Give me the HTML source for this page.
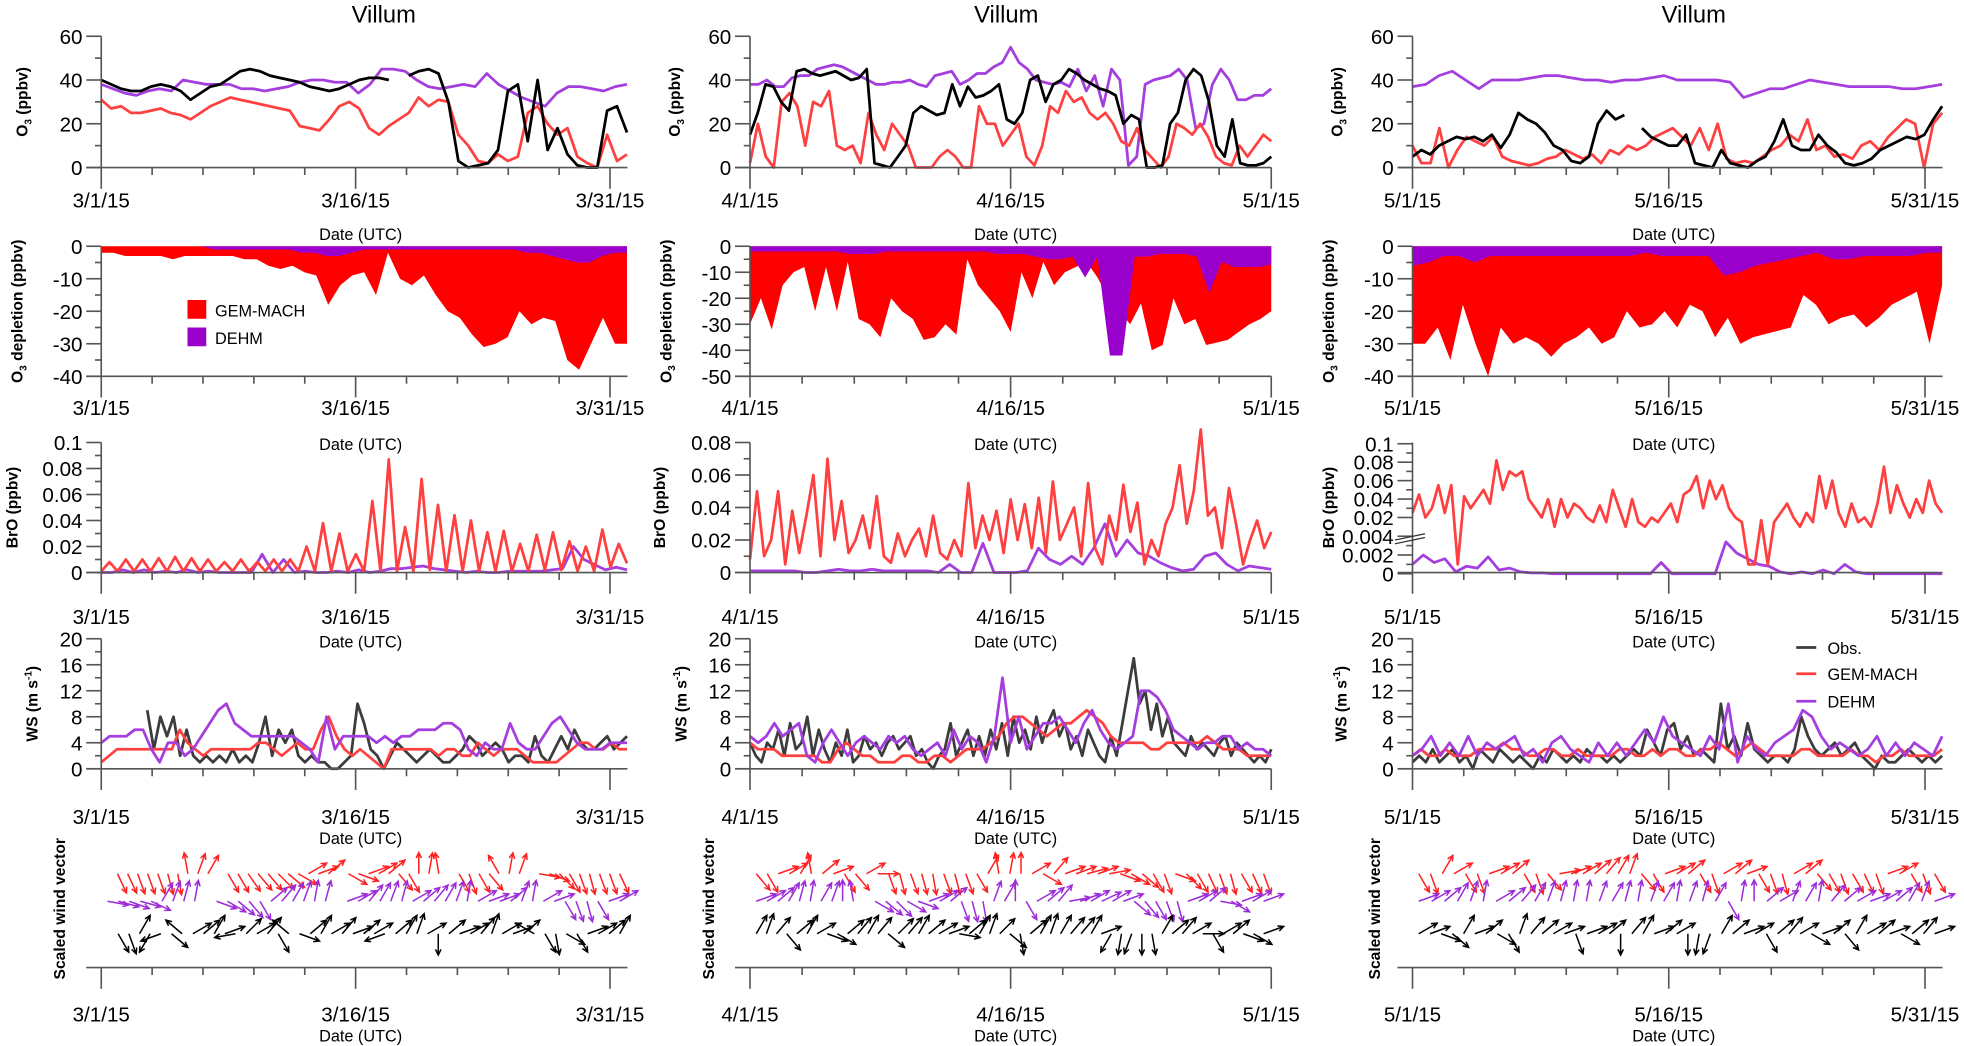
<!DOCTYPE html>
<html><head><meta charset="utf-8"><style>
html,body{margin:0;padding:0;background:#fff;}
svg{display:block;font-family:"Liberation Sans",sans-serif;}
</style></head><body>
<svg id="fig" width="1964" height="1046" viewBox="0 0 1571.2 836.8" xmlns="http://www.w3.org/2000/svg"></svg>
<script>
// ---------- DATA ----------
const colDates = [['3/1/15','3/16/15','3/31/15'],['4/1/15','4/16/15','5/1/15'],['5/1/15','5/16/15','5/31/15']];
const colSpanDays = [31,30,31];
// O3 (ppbv)
const o3Obs1 = [40,38,36,35,35,37,38,37,35,31,34,37,38,41,44,45,44,42,41,40,39,37,36,35,36,38,40,41,41,40,null,42,44,45,43,30,3,0,1,2,8,35,38,12,40,8,18,6,1,0,0,26,28,16];
const o3Gem1 = [31,27,28,25,25,26,27,25,24,22,25,28,30,32,31,30,29,28,27,26,19,18,17,22,28,30,27,18,15,19,22,25,32,28,31,30,15,10,3,2,6,3,5,25,28,20,15,18,5,2,0,15,3,6];
const o3Dehm1 = [38,36,34,33,35,36,35,40,39,38,38,38,36,36,35,36,37,39,40,40,39,39,34,38,45,45,44,40,37,36,37,38,37,43,38,35,32,30,28,34,37,37,36,35,37,38];
const o3Obs2 = [15,25,38,37,30,26,44,45,43,42,43,44,42,40,41,45,2,1,0,5,10,25,28,26,24,25,38,28,37,32,33,35,38,22,20,25,40,42,30,38,40,45,43,40,38,36,35,33,20,24,22,0,0,1,20,25,40,45,42,30,10,5,22,2,1,1,2,5];
const o3Gem2 = [2,20,5,0,30,34,28,10,30,28,35,10,8,10,2,25,15,8,20,15,10,0,0,0,5,8,5,0,0,28,20,20,10,15,20,5,1,10,28,25,35,30,32,25,22,25,20,12,10,18,8,4,0,5,20,18,15,20,14,5,2,1,10,5,10,15,12];
const o3Dehm2 = [38,38,40,37,37,41,42,42,45,46,47,46,44,42,40,38,38,39,39,40,38,37,42,43,44,38,40,43,43,46,48,55,48,45,40,39,38,39,37,45,35,42,28,45,40,1,5,38,40,41,42,45,40,18,20,38,45,40,31,31,33,33,36];
const o3Obs3 = [5,8,6,10,12,14,13,14,12,15,9,15,25,22,20,16,10,8,3,2,5,20,26,22,24,null,18,14,12,10,10,15,2,1,0,8,2,1,0,3,5,12,22,10,8,8,15,10,7,2,1,2,4,8,10,12,14,13,15,22,28];
const o3Gem3 = [10,2,2,18,0,8,14,12,10,14,5,3,2,1,2,4,5,8,6,4,6,2,8,6,10,8,10,14,16,18,14,10,18,8,20,4,2,3,2,5,8,10,15,12,22,8,10,5,6,4,10,12,8,14,18,22,20,0,20,25];
const o3Dehm3 = [37,38,42,44,40,36,40,40,40,41,42,42,41,40,40,39,40,40,41,42,40,40,40,40,39,32,34,36,36,38,40,39,38,37,37,37,37,36,36,37,38];
// O3 depletion (ppbv)
const depGem1 = [-2,-2,-3,-3,-3,-3,-4,-3,-3,-3,-3,-3,-4,-4,-6,-7,-6,-8,-9,-18,-12,-9,-8,-15,-2,-10,-12,-9,-15,-20,-22,-27,-31,-30,-28,-20,-24,-22,-23,-35,-38,-30,-22,-30,-30];
const depDehm1 = [0,0,0,0,0,0,0,0,0,-1,-1,-1,-1,-1,-1,-1,-2,-2,-3,-3,-2,-1,-1,-1,-1,-1,-1,-1,-1,-1,-1,-1,-1,-1,-2,-2,-3,-4,-5,-5,-3,-2,-2];
const depGem2 = [-30,-20,-32,-15,-10,-8,-25,-8,-25,-6,-28,-30,-35,-20,-25,-28,-36,-35,-30,-34,-5,-15,-20,-25,-33,-10,-20,-6,-15,-10,-8,-6,-12,-20,-25,-30,-22,-40,-38,-20,-30,-28,-38,-37,-36,-33,-30,-28,-25];
const depDehm2 = [-2,-2,-2,-2,-2,-2,-2,-2,-3,-3,-3,-2,-2,-2,-2,-2,-2,-2,-2,-2,-3,-3,-3,-4,-5,-5,-4,-12,-4,-42,-42,-4,-4,-3,-3,-3,-4,-18,-6,-8,-8,-8,-7];
const depGem3 = [-30,-30,-25,-35,-18,-30,-40,-25,-30,-28,-30,-34,-30,-28,-25,-30,-28,-20,-25,-24,-20,-25,-18,-20,-28,-22,-30,-28,-27,-26,-25,-15,-18,-24,-22,-21,-25,-22,-18,-16,-14,-30,-12];
const depDehm3 = [-6,-5,-3,-3,-5,-3,-3,-3,-3,-3,-3,-3,-3,-3,-3,-2,-3,-3,-3,-3,-9,-8,-6,-5,-4,-3,-2,-4,-4,-3,-3,-3,-3,-2,-2];
// BrO (ppbv)
const broGem1 = [0.001,0.008,0.001,0.01,0.001,0.01,0.001,0.011,0.001,0.012,0.001,0.011,0.001,0.01,0.001,0.008,0.001,0.01,0.001,0.008,0.001,0.01,0.001,0.01,0.001,0.02,0.001,0.038,0.001,0.03,0.001,0.014,0.001,0.055,0.001,0.087,0.001,0.035,0.001,0.072,0.002,0.052,0.001,0.044,0.001,0.04,0.001,0.031,0.001,0.032,0.001,0.022,0.001,0.029,0.002,0.031,0.002,0.024,0.001,0.02,0.001,0.033,0.004,0.022,0.007];
const broDehm1 = [0,0,0.002,0,0.002,0,0.001,0,0.002,0,0.001,0,0,0,0,0.014,0,0.01,0,0.001,0,0,0.001,0,0.002,0,0.001,0.003,0.003,0.004,0.005,0.003,0.002,0.001,0,0.001,0,0,0.001,0.001,0.001,0.001,0.002,0.003,0.02,0.01,0.006,0.002,0.004,0.002];
const broGem2 = [0.008,0.05,0.01,0.02,0.05,0.005,0.038,0.012,0.035,0.06,0.01,0.07,0.02,0.044,0.012,0.02,0.035,0.015,0.047,0.01,0.006,0.024,0.01,0.02,0.027,0.01,0.035,0.012,0.008,0.02,0.01,0.055,0.015,0.035,0.02,0.038,0.012,0.045,0.02,0.042,0.015,0.046,0.012,0.056,0.02,0.03,0.04,0.01,0.055,0.015,0.005,0.035,0.02,0.054,0.025,0.043,0.005,0.02,0.01,0.03,0.04,0.066,0.03,0.05,0.088,0.035,0.04,0.015,0.052,0.03,0.005,0.02,0.032,0.015,0.025];
const broDehm2 = [0.001,0.001,0.001,0.001,0.001,0,0,0.001,0.002,0.001,0.001,0.002,0.001,0.001,0.001,0.001,0.001,0,0.005,0,0,0.018,0,0,0,0.001,0.015,0.008,0.005,0.01,0.005,0.015,0.03,0.01,0.02,0.012,0.01,0.006,0.003,0.001,0.002,0.01,0.012,0.005,0.001,0.004,0.003,0.002];
const broGem3 = [0.025,0.045,0.02,0.03,0.055,0.025,0.055,0.001,0.043,0.03,0.04,0.05,0.035,0.082,0.05,0.07,0.065,0.07,0.04,0.03,0.02,0.04,0.01,0.04,0.02,0.035,0.03,0.02,0.015,0.033,0.015,0.05,0.03,0.01,0.04,0.015,0.01,0.02,0.015,0.025,0.035,0.015,0.045,0.05,0.065,0.03,0.06,0.04,0.055,0.03,0.02,0.015,0.001,0.001,0.017,0.001,0.015,0.025,0.035,0.02,0.01,0.025,0.015,0.065,0.03,0.06,0.025,0.01,0.035,0.015,0.02,0.01,0.035,0.075,0.025,0.055,0.035,0.02,0.04,0.025,0.06,0.035,0.025];
const broDehm3 = [0.001,0.002,0.0012,0.0016,0.0002,0.0008,0.0006,0.0018,0.0004,0.0006,0.0002,0.0001,0.0001,0,0,0,0,0,0,0,0,0,0,0.0012,0,0,0,0,0,0.0034,0.0022,0.0016,0.001,0.0008,0.0002,0,0.0002,0,0.0004,0,0.001,0.0002,0,0,0,0,0,0,0,0];
// Wind speed (m s-1)
const wsObs1 = [null,null,null,null,null,null,null,9,3,8,5,8,2,6,2,1,2,1,2,1,3,1,2,1,4,8,2,6,4,6,2,1,2,1,1,0,0,1,2,10,7,3,2,0,2,4,3,2,1,2,3,2,1,1,2,3,5,4,2,3,4,3,1,2,2,1,5,2,1,3,5,3,6,4,3,3,4,5,3,4,5];
const wsGem1 = [1,2,3,3,3,3,3,3,3,3,6,4,3,2,3,3,3,3,3,3,4,4,3,2,3,4,3,3,6,8,5,3,2,3,2,1,0,3,3,3,3,3,3,2,3,3,2,2,4,3,2,3,3,3,2,1,1,1,1,2,3,4,4,3,3,4,3,3];
const wsDehm1 = [4,5,5,5,6,6,3,1,4,4,2,3,5,7,9,10,7,6,5,5,5,5,5,5,4,3,1,8,3,5,5,5,5,4,5,4,5,5,6,6,6,7,7,6,3,2,4,3,3,7,4,3,3,5,7,8,6,4,3,3,3,4,4,4];
const wsObs2 = [4,2,1,4,3,6,2,7,3,4,8,2,6,3,1,4,2,6,1,2,5,3,4,2,4,5,3,4,5,2,3,1,0,2,3,7,2,4,6,2,5,2,6,3,7,2,8,4,6,3,8,4,7,9,5,7,3,5,2,6,4,2,1,5,2,7,12,17,10,12,6,10,5,8,4,3,2,5,3,4,3,2,4,5,2,4,3,2,1,2,1,3];
const wsGem2 = [4,3,3,3,2,2,2,2,2,1,1,3,4,3,2,2,1,1,1,2,2,1,1,2,2,1,2,3,3,3,4,5,7,8,8,7,6,5,6,7,7,8,9,8,7,5,4,4,4,4,3,3,4,4,4,4,4,5,4,3,3,3,2,2,2,2];
const wsDehm2 = [5,4,5,7,5,6,7,2,1,4,6,4,2,4,5,4,3,5,4,5,3,2,3,4,2,6,3,5,4,1,5,14,4,8,3,5,7,7,8,6,4,7,9,6,4,3,4,5,12,12,11,9,6,5,4,3,4,4,5,5,3,4,3,3,2];
const wsObs3 = [1,2,1,3,1,2,3,1,2,0,3,2,1,3,2,1,2,1,0,2,1,3,2,1,2,1,3,2,2,1,2,1,2,3,2,6,4,2,6,7,3,5,2,3,2,1,10,3,5,2,7,3,2,1,2,2,1,3,8,5,3,2,3,4,2,3,4,2,1,0,2,1,1,2,3,2,1,2,1,2];
const wsGem3 = [2,3,2,2,3,2,2,2,3,3,3,4,3,3,2,2,3,3,2,2,3,2,2,2,2,3,3,2,2,3,2,3,3,2,2,3,3,4,3,2,3,4,3,2,2,2,2,3,3,2,2,2,2,3,2,2,1,2,2,3,2,2,2,2,3];
const wsDehm3 = [2,3,5,2,4,2,5,2,4,3,4,5,2,3,1,4,5,3,2,1,4,2,4,2,4,6,4,8,5,4,3,2,5,3,10,1,5,3,2,4,5,6,9,8,5,3,4,3,2,3,5,2,4,2,4,3,2,5];
// Wind direction (degrees, screen: 0=east, 90=south), null = missing
const dirGem1 = [null,65,65,70,70,70,75,80,-100,-70,-60,null,60,60,55,50,50,45,40,30,-30,-20,-40,null,30,20,-20,-30,-40,50,60,-90,-80,-100,null,60,70,60,50,-120,-80,-70,null,10,20,45,60,70,75,70,70,65];
const dirDehm1 = [10,15,20,15,25,-60,-70,-75,-80,null,20,30,40,50,60,-40,-50,-60,-70,-80,-75,null,-20,-30,-50,-60,-70,-75,-30,-40,-50,-60,-70,-80,-30,-20,-20,-40,-70,-80,-30,-20,60,70,75,60,-20,-30];
const dirObs1 = [null,60,70,-60,120,160,40,-140,-30,-40,-60,-20,170,-45,-30,-50,60,-140,20,-40,-60,-30,-50,-20,-40,-30,160,-40,-60,-70,-30,90,-40,-20,-30,-50,-70,-30,-20,-40,-150,60,80,30,60,-20,-30,-40,-60];
const dirGem2 = [50,60,-20,-30,-60,-100,-40,-20,60,50,-30,0,70,75,70,75,80,70,75,70,60,-60,-100,-80,-90,-30,30,-50,-20,-20,-15,-20,-10,20,30,40,60,70,20,45,60,65,70,75,60,65,70];
const dirDehm2 = [-20,-30,-40,-60,-75,-80,-60,-70,-90,-100,null,30,40,45,30,20,-20,-30,-40,70,75,80,-70,-60,-90,60,-30,-40,-50,-10,-20,-30,-25,-30,-20,40,50,60,70,75,-20,-30,-40,10,30,-20,-30,-20];
const dirObs2 = [-60,-70,-50,50,-40,-60,-30,20,30,-40,-50,-60,-50,40,-45,-50,-60,-40,-30,-20,10,-40,-60,-70,-45,40,80,-40,-60,-70,-60,-50,-50,-60,-20,120,100,110,90,80,-60,-40,-50,-30,0,60,-30,-40,20,30,-20];
const dirGem3 = [60,70,-60,-30,60,70,-20,-30,-40,60,70,50,-10,-20,-30,-40,-50,-60,-70,50,60,-20,-30,-40,60,70,-30,-40,-20,60,70,75,-30,-40,50,60,70,60,65,70,-20,-30,60,70,60];
const dirDehm3 = [-20,-30,-40,-60,-70,-80,-30,-40,-50,-60,-70,-75,-80,-80,-70,-60,-75,-80,-70,-60,-80,-70,-75,-60,60,-80,-90,-40,-30,-70,-60,-80,-50,-40,-30,-20,-30,-40,-60,-70,-20];
const dirObs3 = [-30,-20,20,40,-60,-20,-40,30,60,-70,-50,-40,-30,-20,70,-20,-30,-40,90,-50,-60,-20,-40,-30,90,100,110,-60,-40,-20,-30,60,-40,-50,-30,30,-20,-40,50,-60,-30,-40,-20,30,-40,-50,-20];

// ---------- LAYOUT ----------
const svg = document.getElementById('fig');
const NS = 'http://www.w3.org/2000/svg';
const cols = [
  {x0:81, x1:502, dpx:(488-81)/30, tx:307},
  {x0:600, x1:1017, dpx:(1017-600)/30, tx:805},
  {x0:1130, x1:1554, dpx:(1540-1130)/30, tx:1355}
];
const rows = [
  {yTop:29, yBot:134, dateY:160, utcY:187},
  {yTop:197, yBot:301, dateY:326, utcY:355},
  {yTop:354, yBot:458, dateY:493, utcY:513},
  {yTop:511, yBot:615, dateY:653, utcY:670},
  {yTop:680, yBot:774, dateY:811, utcY:828}
];
const titleX = [[18,540,1070],[14,533,1063],[10,528,1063],[26,545,1073],[48,567,1100]];
const C_OBS='#000000', C_GEM='#ff4040', C_DEHM='#a43ede', C_WSOBS='#3c3c3c';

function el(tag, attrs, parent){ const e=document.createElementNS(NS,tag); for(const k in attrs) e.setAttribute(k,attrs[k]); (parent||svg).appendChild(e); return e; }
function xScale(ci, i, n){ const c=cols[ci]; const d = i*colSpanDays[ci]/(n-1); return c.x0 + d*c.dpx; }
function lin(d0,d1,r0,r1){ return v => r0 + (v-d0)*(r1-r0)/(d1-d0); }

function linePath(ci, arr, yf){
  let d='', pen=false;
  arr.forEach((v,i)=>{ if(v===null){pen=false;return;} const x=xScale(ci,i,arr.length), y=yf(v); d+=(pen?'L':'M')+x.toFixed(1)+' '+y.toFixed(1)+' '; pen=true; });
  return d;
}
function drawLine(g, ci, arr, yf, color, w, name){
  const p = el('path',{d:linePath(ci,arr,yf),fill:'none',stroke:color,'stroke-width':w,'stroke-linejoin':'round'},g);
  
  
}
function drawArea(g, ci, arr, yf, color, name){
  const n=arr.length; const y0=yf(0);
  let d='M'+xScale(ci,0,n)+' '+y0+' ';
  arr.forEach((v,i)=>{ d+='L'+xScale(ci,i,n).toFixed(1)+' '+yf(v).toFixed(1)+' '; });
  d+='L'+xScale(ci,n-1,n)+' '+y0+' Z';
  const p = el('path',{d:d,fill:color,stroke:'none'},g);
  
  
}
function text(g, x, y, s, size, opts){
  const t = el('text',Object.assign({x:x,y:y,'font-size':size,fill:'#000'},opts||{}),g);
  t.textContent = s; return t;
}

function xAxis(g, ci, ri){
  const c=cols[ci], r=rows[ri], y=r.yBot;
  const ax = el('line',{x1:c.x0-12,y1:y,x2:c.x1,y2:y,stroke:'#555','stroke-width':1.3},g);
   
  for(let d=0; d<=colSpanDays[ci]; d+=3){
    const x=c.x0+d*c.dpx; if(x>c.x1+0.5) break;
    const major = (d%15===0);
    el('line',{x1:x,y1:y,x2:x,y2:y+(major?17:6),stroke:'#555','stroke-width':1.3},g);
  }
  colDates[ci].forEach((s,k)=>{
    const t=text(g, c.x0+k*15*c.dpx, r.dateY+6, s, 16.5, {'text-anchor':'middle'});
     
  });
  const u=text(g,(c.x0+c.x0+30*c.dpx)/2+4, r.utcY+5, 'Date (UTC)', 13, {'text-anchor':'middle'});
   
}
function yAxis(g, ci, ri, yf, ticks, labels, minors){
  const c=cols[ci], r=rows[ri];
  const ax=el('line',{x1:c.x0,y1:r.yTop,x2:c.x0,y2:r.yBot,stroke:'#555','stroke-width':1.3},g);
   
  ticks.forEach((v,k)=>{ const y=yf(v);
    el('line',{x1:c.x0-12,y1:y,x2:c.x0,y2:y,stroke:'#555','stroke-width':1.3},g);
    const t=text(g,c.x0-15,y+6,labels[k],16.5,{'text-anchor':'end'});
     
  });
  minors.forEach(v=>{ const y=yf(v); el('line',{x1:c.x0-5,y1:y,x2:c.x0,y2:y,stroke:'#555','stroke-width':1.3},g); });
}
function yTitle(g, ci, ri, parts){
  const x=titleX[ri][ci], y=(rows[ri].yTop+rows[ri].yBot)/2;
  const t=el('text',{x:0,y:0,'font-size':12.5,'font-weight':'bold','text-anchor':'middle',transform:`translate(${x+4},${y}) rotate(-90)`},g);
  parts.forEach(p=>{ const ts=el('tspan',p.sub?{'font-size':8,dy:3}:(p.sup?{'font-size':8,dy:-5}:(p.back?{dy:p.back}:{})),t); ts.textContent=p.s; });
   
}

// ---------- DRAW ----------
const o3Sets=[[o3Obs1,o3Gem1,o3Dehm1],[o3Obs2,o3Gem2,o3Dehm2],[o3Obs3,o3Gem3,o3Dehm3]];
const depSets=[[depGem1,depDehm1],[depGem2,depDehm2],[depGem3,depDehm3]];
const broSets=[[broGem1,broDehm1],[broGem2,broDehm2],[broGem3,broDehm3]];
const wsSets=[[wsObs1,wsGem1,wsDehm1],[wsObs2,wsGem2,wsDehm2],[wsObs3,wsGem3,wsDehm3]];
const dirSets=[[dirGem1,dirDehm1,dirObs1],[dirGem2,dirDehm2,dirObs2],[dirGem3,dirDehm3,dirObs3]];
const depMin=[-40,-50,-40];

for(let ci=0; ci<3; ci++){
  const c=cols[ci];
  const colG=el('g',{});  
  const tt=text(colG,c.tx,18,'Villum',19,{'text-anchor':'middle'});
   

  // Row 1: O3
  let g=el('g',{},colG);  
  let yf=lin(0,60,rows[0].yBot,rows[0].yTop);
  drawLine(g,ci,o3Sets[ci][2],yf,C_DEHM,2.2,'o3-dehm-line');
  drawLine(g,ci,o3Sets[ci][1],yf,C_GEM,2.2,'o3-gem-mach-line');
  drawLine(g,ci,o3Sets[ci][0],yf,C_OBS,2.2,'o3-obs-line');
  yAxis(g,ci,0,yf,[0,20,40,60],['0','20','40','60'],[10,30,50]);
  xAxis(g,ci,0);
  yTitle(g,ci,0,[{s:'O'},{s:'3',sub:true},{s:' (ppbv)',back:-3}]);

  // Row 2: depletion
  g=el('g',{},colG);  
  yf=lin(0,depMin[ci],rows[1].yTop,rows[1].yBot);
  drawArea(g,ci,depSets[ci][0],yf,'#ff0000','depletion-gem-mach-area');
  drawArea(g,ci,depSets[ci][1],yf,'#9900cc','depletion-dehm-area');
  const dt=[],dl=[],dm=[]; for(let v=0; v>=depMin[ci]; v-=10){dt.push(v);dl.push(String(v));} for(let v=-5; v>depMin[ci]; v-=10) dm.push(v);
  yAxis(g,ci,1,yf,dt,dl,dm);
  xAxis(g,ci,1);
  yTitle(g,ci,1,[{s:'O'},{s:'3',sub:true},{s:' depletion (ppbv)',back:-3}]);
  if(ci===0){
    const lg=el('g',{},g);  
    el('rect',{x:150,y:240,width:15,height:15,fill:'#ff0000'},lg);
    text(lg,172,253,'GEM-MACH',13);
    el('rect',{x:150,y:262,width:15,height:15,fill:'#9900cc'},lg);
    text(lg,172,275,'DEHM',13);
  }

  // Row 3: BrO
  g=el('g',{},colG);  
  if(ci<2){
    const top = ci===0?0.1:0.08;
    yf=lin(0,top,rows[2].yBot,rows[2].yTop);
    const tk=[],tl=[],mn=[]; for(let v=0; v<=top+1e-9; v+=0.02){tk.push(v);tl.push(v===0?'0':(Math.round(v*100)/100).toString());} for(let v=0.01; v<top; v+=0.02) mn.push(v);
    drawLine(g,ci,broSets[ci][1],yf,C_DEHM,2.2,'bro-dehm-line');
    drawLine(g,ci,broSets[ci][0],yf,C_GEM,2.2,'bro-gem-mach-line');
    yAxis(g,ci,2,yf,tk,tl,mn);
  } else {
    const lo=lin(0,0.004,459,429), hi=lin(0.02,0.1,414,355);
    yf = v => v<=0.004 ? lo(v) : Math.min(hi(Math.max(v,0.0045)), lo(0.004)) ;
    drawLine(g,ci,broSets[ci][1],yf,C_DEHM,2.2,'bro-dehm-line');
    drawLine(g,ci,broSets[ci][0],yf,C_GEM,2.2,'bro-gem-mach-line');
    yAxis(g,ci,2,yf,[0,0.002,0.004,0.02,0.04,0.06,0.08,0.1],['0','0.002','0.004','0.02','0.04','0.06','0.08','0.1'],[0.001,0.003,0.03,0.05,0.07,0.09]);
    el('line',{x1:c.x0-14,y1:432,x2:c.x0+10,y2:427,stroke:'#333','stroke-width':1},g);
    el('line',{x1:c.x0-14,y1:435,x2:c.x0+10,y2:430,stroke:'#333','stroke-width':1},g);
  }
  xAxis(g,ci,2);
  yTitle(g,ci,2,[{s:'BrO (ppbv)'}]);

  // Row 4: WS
  g=el('g',{},colG);  
  yf=lin(0,20,rows[3].yBot,rows[3].yTop);
  drawLine(g,ci,wsSets[ci][0],yf,C_WSOBS,2.2,'ws-obs-line');
  drawLine(g,ci,wsSets[ci][1],yf,C_GEM,2.2,'ws-gem-mach-line');
  drawLine(g,ci,wsSets[ci][2],yf,C_DEHM,2.2,'ws-dehm-line');
  yAxis(g,ci,3,yf,[0,4,8,12,16,20],['0','4','8','12','16','20'],[2,6,10,14,18]);
  xAxis(g,ci,3);
  yTitle(g,ci,3,[{s:'WS (m s'},{s:'-1',sup:true},{s:')',back:5}]);
  if(ci===2){
    const lg=el('g',{},g);  
    [['Obs.',C_WSOBS,518],['GEM-MACH',C_GEM,539],['DEHM',C_DEHM,561]].forEach(([s,col,y])=>{
      el('line',{x1:1437,y1:y,x2:1453,y2:y,stroke:col,'stroke-width':2.2},lg);
      const t=text(lg,1462,y+5,s,13);  
    });
  }

  // Row 5: wind vectors
  g=el('g',{},colG);  
  const baseY=[699,721,747], vcol=['#ff2020','#9c2cd8','#000'];
  dirSets[ci].forEach((arr,si)=>{
    const sg=el('g',{stroke:vcol[si],'stroke-width':1.2,fill:'none'},g);
    
    
    const n=arr.length;
    arr.forEach((a,i)=>{
      if(a===null) return;
      const x=c.x0+5+(i/(n-1))*(colSpanDays[ci]-0.8)*c.dpx, y=baseY[si];
      const L=17, r=a*Math.PI/180, ex=x+L*Math.cos(r), ey=y+L*Math.sin(r);
      const h1=r+Math.PI-0.45, h2=r+Math.PI+0.45;
      el('path',{d:`M${x.toFixed(1)} ${y} L${ex.toFixed(1)} ${ey.toFixed(1)} M${(ex+5*Math.cos(h1)).toFixed(1)} ${(ey+5*Math.sin(h1)).toFixed(1)} L${ex.toFixed(1)} ${ey.toFixed(1)} L${(ex+5*Math.cos(h2)).toFixed(1)} ${(ey+5*Math.sin(h2)).toFixed(1)}`},sg);
    });
  });
  xAxis(g,ci,4);
  yTitle(g,ci,4,[{s:'Scaled wind vector'}]);
}
</script>
</body></html>
